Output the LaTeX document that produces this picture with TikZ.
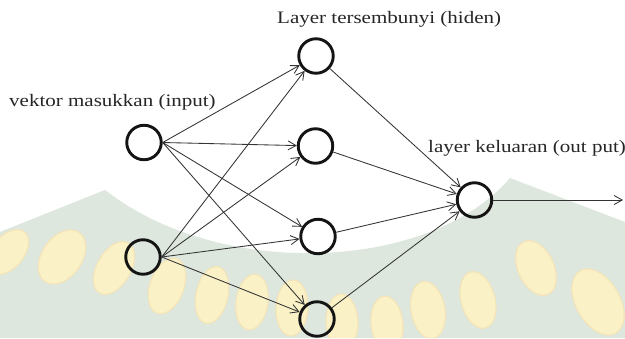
\documentclass[tikz,border=0pt]{standalone}
\usepackage{fontspec}
\setmainfont{Liberation Serif}[FakeStretch=1.2]
\usetikzlibrary{arrows.meta}
\begin{document}
\begin{tikzpicture}[x=1pt,y=-1pt,
 neuron/.style={circle, draw=black!92, line width=2.9pt, minimum size=34.5pt, inner sep=0pt},
 link/.style={draw=black!80, line width=0.85pt, -{Straight Barb[length=8pt,width=9pt,line width=0.85pt]}},
 lbl/.style={anchor=base west, inner sep=0pt, font=\fontsize{17.5}{20}\selectfont, text=black!85},
 petal/.style={fill=wmyellow, draw=wmedge, line width=1.2pt}
 ]
\definecolor{wmgreen}{RGB}{221,231,222}
\definecolor{wmyellow}{RGB}{250,241,198}
\definecolor{wmedge}{RGB}{244,228,185}
\useasboundingbox (0,0) rectangle (625,338);
\fill[white] (0,0) rectangle (625,338);
% watermark background
\fill[wmgreen] (0,232) -- (105,190) .. controls (220,280) and (430,272) .. (510,178) -- (625,222) -- (625,338) -- (0,338) -- cycle;
\begin{scope}
\clip (0,232) -- (105,190) .. controls (220,280) and (430,272) .. (510,178) -- (625,222) -- (625,338) -- (0,338) -- cycle;
\foreach \px/\py/\pa/\rx/\ry in {8/252/-40/16/26, 62/257/-35/20/30, 114/268/-30/17/29, 167/286/-20/17/29, 212/295/-12/16/29, 252/302/-8/16/28, 292/308/-3/16/28, 342/322/2/16/28, 387/324/6/16/28, 428/310/10/17/29, 478/300/15/17/29, 536/268/25/18/29, 598/302/30/22/36}
  {\draw[petal, shift={(\px,\py)}, rotate=\pa] (0,0) ellipse (\rx pt and \ry pt);}
\end{scope}
% neurons
\node[neuron] (i1) at (144,142.5) {};
\node[neuron] (i2) at (143,257) {};
\node[neuron] (h1) at (316,56) {};
\node[neuron] (h2) at (315.5,146) {};
\node[neuron] (h3) at (318,236.5) {};
\node[neuron] (h4) at (317,319) {};
\node[neuron] (o) at (474.5,200) {};
\coordinate (end) at (623,200);
% connectors
\foreach \h in {h1,h2,h3,h4} {
  \draw[link] (i1.east) -- (\h);
  \draw[link] (i2.east) -- (\h);
  \draw[link] (\h) -- (o);
}
\draw[link] (o) -- (end);
% labels
\node[lbl] (tH) at (277,23) {Layer tersembunyi (hiden)};
\node[lbl] (tI) at (9,106) {vektor masukkan (input)};
\node[lbl] (tO) at (428,152.5) {layer keluaran (out put)};
\end{tikzpicture}
\end{document}
